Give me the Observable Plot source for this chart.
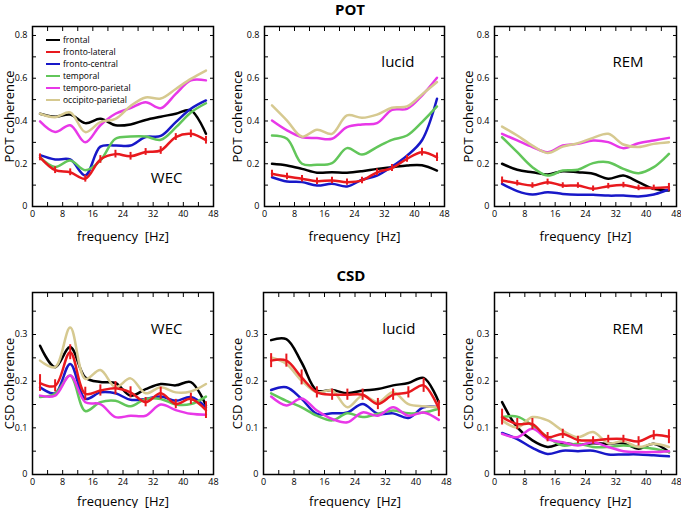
<!DOCTYPE html>
<html>
<head>
<meta charset="utf-8">
<script src="https://cdn.jsdelivr.net/npm/d3@7"></script>
<script src="https://cdn.jsdelivr.net/npm/@observablehq/plot@0.6"></script>
<style>
  html, body { margin: 0; padding: 0; background: #fff; }
  #wrap { position: relative; width: 681px; height: 508px; overflow: hidden; font-family: 'Open Sans', sans-serif; }
  #wrap svg { position: absolute; }
  #wrap [aria-label="x-axis label"] text, #wrap [aria-label="y-axis label"] text { font-size: 13px; }
  .title { position: absolute; font-weight: bold; font-size: 15px; transform: translateX(-50%); line-height: 1; }
  .legend { position: absolute; left: 46px; top: 34px; font-size: 8.5px; line-height: 12px; }
  .legend .row { display: flex; align-items: center; height: 12px; }
  .legend .sw { width: 14px; height: 2.5px; margin-right: 3px; }
</style>
</head>
<body>
<div id="wrap"></div>
<script>
// ---------- data ----------
const freq = [2, 6, 10, 14, 18, 22, 26, 30, 34, 38, 42, 46];
const series = ["frontal", "fronto-lateral", "fronto-central", "temporal", "temporo-parietal", "occipito-parietal"];
const colors = ["#000000", "#e8191e", "#1818c8", "#62c65a", "#e838e8", "#d6c990"];

const xTicks = [0, 4, 8, 12, 16, 20, 24, 28, 32, 36, 40, 44, 48];
const xTickLabels = [0, 8, 16, 24, 32, 40, 48];
const potTicks = [0, 0.1, 0.2, 0.3, 0.4, 0.5, 0.6, 0.7, 0.8];
const potTickLabels = [0, 0.2, 0.4, 0.6, 0.8];
const csdTicks = [0, 0.05, 0.1, 0.15, 0.2, 0.25, 0.3, 0.35];
const csdTickLabels = [0, 0.1, 0.2, 0.3];

// POT coherence, WEC
const potWecFrontal  = [0.434, 0.42, 0.43, 0.39, 0.41, 0.38, 0.384, 0.405, 0.42, 0.434, 0.45, 0.34];
const potWecLateral  = [0.23, 0.17, 0.16, 0.13, 0.22, 0.245, 0.235, 0.255, 0.262, 0.325, 0.34, 0.31];
const potWecCentral  = [0.24, 0.22, 0.22, 0.145, 0.28, 0.285, 0.285, 0.325, 0.33, 0.395, 0.457, 0.496];
const potWecTemporal = [0.23, 0.185, 0.215, 0.17, 0.215, 0.317, 0.327, 0.327, 0.312, 0.37, 0.44, 0.483];
const potWecTempPar  = [0.398, 0.348, 0.38, 0.30, 0.38, 0.434, 0.46, 0.488, 0.46, 0.527, 0.59, 0.59];
const potWecOccPar   = [0.434, 0.418, 0.44, 0.348, 0.395, 0.41, 0.47, 0.51, 0.505, 0.55, 0.597, 0.636];
const potWecErr      = [0.016, 0.016, 0.016, 0.016, 0.018, 0.018, 0.018, 0.016, 0.018, 0.016, 0.018, 0.018];

// POT coherence, lucid
const potLucidFrontal  = [0.2, 0.192, 0.176, 0.158, 0.16, 0.158, 0.165, 0.176, 0.184, 0.192, 0.193, 0.168];
const potLucidLateral  = [0.153, 0.14, 0.13, 0.118, 0.122, 0.114, 0.122, 0.16, 0.18, 0.223, 0.254, 0.23];
const potLucidCentral  = [0.137, 0.117, 0.114, 0.098, 0.106, 0.094, 0.125, 0.145, 0.187, 0.238, 0.31, 0.504];
const potLucidTemporal = [0.332, 0.317, 0.2, 0.195, 0.203, 0.273, 0.243, 0.278, 0.312, 0.332, 0.395, 0.468];
const potLucidTempPar  = [0.402, 0.356, 0.324, 0.32, 0.317, 0.371, 0.384, 0.39, 0.452, 0.457, 0.519, 0.602];
const potLucidOccPar   = [0.473, 0.402, 0.327, 0.359, 0.34, 0.426, 0.415, 0.43, 0.462, 0.468, 0.524, 0.582];
const potLucidErr      = [0.016, 0.015, 0.015, 0.015, 0.015, 0.015, 0.015, 0.016, 0.016, 0.016, 0.018, 0.02];

// POT coherence, REM
const potRemFrontal  = [0.2, 0.172, 0.16, 0.15, 0.165, 0.16, 0.153, 0.13, 0.145, 0.114, 0.083, 0.075];
const potRemLateral  = [0.122, 0.109, 0.098, 0.114, 0.098, 0.098, 0.083, 0.095, 0.1, 0.087, 0.087, 0.09];
const potRemCentral  = [0.106, 0.072, 0.056, 0.067, 0.059, 0.055, 0.055, 0.051, 0.051, 0.047, 0.056, 0.08];
const potRemTemporal = [0.324, 0.254, 0.184, 0.145, 0.168, 0.172, 0.203, 0.207, 0.176, 0.156, 0.184, 0.246];
const potRemTempPar  = [0.34, 0.309, 0.278, 0.254, 0.285, 0.293, 0.309, 0.301, 0.273, 0.296, 0.309, 0.321];
const potRemOccPar   = [0.374, 0.332, 0.285, 0.25, 0.28, 0.296, 0.321, 0.34, 0.29, 0.278, 0.293, 0.301];
const potRemErr      = [0.016, 0.013, 0.013, 0.014, 0.013, 0.013, 0.013, 0.013, 0.013, 0.013, 0.013, 0.018];

// CSD coherence, WEC
const csdWecFrontal  = [0.276, 0.23, 0.273, 0.208, 0.198, 0.196, 0.169, 0.183, 0.194, 0.191, 0.198, 0.148];
const csdWecLateral  = [0.196, 0.19, 0.262, 0.173, 0.18, 0.185, 0.176, 0.155, 0.174, 0.151, 0.162, 0.138];
const csdWecCentral  = [0.187, 0.174, 0.237, 0.162, 0.176, 0.174, 0.16, 0.162, 0.167, 0.158, 0.166, 0.144];
const csdWecTemporal = [0.166, 0.173, 0.212, 0.136, 0.155, 0.158, 0.146, 0.162, 0.162, 0.15, 0.151, 0.167];
const csdWecTempPar  = [0.169, 0.169, 0.212, 0.155, 0.151, 0.123, 0.126, 0.126, 0.15, 0.138, 0.13, 0.128];
const csdWecOccPar   = [0.244, 0.23, 0.315, 0.205, 0.224, 0.187, 0.206, 0.174, 0.187, 0.176, 0.178, 0.194];
const csdWecErr      = [0.018, 0.013, 0.016, 0.014, 0.012, 0.014, 0.012, 0.01, 0.013, 0.01, 0.012, 0.018];

// CSD coherence, lucid
const csdLucidFrontal  = [0.288, 0.29, 0.24, 0.18, 0.181, 0.174, 0.18, 0.183, 0.191, 0.196, 0.207, 0.155];
const csdLucidLateral  = [0.244, 0.244, 0.208, 0.176, 0.171, 0.171, 0.171, 0.151, 0.171, 0.176, 0.191, 0.141];
const csdLucidCentral  = [0.181, 0.187, 0.162, 0.13, 0.131, 0.133, 0.151, 0.13, 0.131, 0.121, 0.144, 0.144];
const csdLucidTemporal = [0.174, 0.158, 0.144, 0.126, 0.116, 0.131, 0.123, 0.13, 0.137, 0.131, 0.133, 0.141];
const csdLucidTempPar  = [0.167, 0.148, 0.163, 0.137, 0.119, 0.112, 0.133, 0.126, 0.144, 0.126, 0.133, 0.117];
const csdLucidOccPar   = [0.251, 0.237, 0.201, 0.176, 0.18, 0.144, 0.169, 0.155, 0.176, 0.151, 0.146, 0.144];
const csdLucidErr      = [0.015, 0.014, 0.016, 0.012, 0.012, 0.012, 0.012, 0.012, 0.012, 0.012, 0.015, 0.017];

// CSD coherence, REM
const csdRemFrontal  = [0.155, 0.101, 0.073, 0.059, 0.067, 0.064, 0.067, 0.066, 0.067, 0.055, 0.066, 0.048];
const csdRemLateral  = [0.123, 0.108, 0.108, 0.08, 0.087, 0.074, 0.073, 0.076, 0.076, 0.071, 0.084, 0.081];
const csdRemCentral  = [0.089, 0.076, 0.057, 0.044, 0.051, 0.05, 0.051, 0.043, 0.043, 0.043, 0.041, 0.039];
const csdRemTemporal = [0.123, 0.124, 0.105, 0.08, 0.062, 0.066, 0.059, 0.059, 0.062, 0.059, 0.055, 0.048];
const csdRemTempPar  = [0.087, 0.08, 0.098, 0.076, 0.069, 0.062, 0.069, 0.059, 0.05, 0.048, 0.048, 0.05];
const csdRemOccPar   = [0.116, 0.101, 0.123, 0.116, 0.094, 0.08, 0.091, 0.067, 0.071, 0.059, 0.066, 0.059];
const csdRemErr      = [0.017, 0.012, 0.012, 0.01, 0.01, 0.008, 0.008, 0.008, 0.008, 0.01, 0.01, 0.015];

// ---------- layout ----------
const panels = [
  {name: "WEC", ylabel: "POT coherence", values: [potWecFrontal, potWecLateral, potWecCentral, potWecTemporal, potWecTempPar, potWecOccPar], err: potWecErr,
   ticks: potTicks, tickLabels: potTickLabels, yMax: 0.842, left: 0, top: 0, w: 227, h: 250, ml: 32, mr: 14, mt: 26, mb: 44, dx: -31, dy: 146, xlo: 34, ylo: 28},
  {name: "lucid", ylabel: "POT coherence", values: [potLucidFrontal, potLucidLateral, potLucidCentral, potLucidTemporal, potLucidTempPar, potLucidOccPar], err: potLucidErr,
   ticks: potTicks, tickLabels: potTickLabels, yMax: 0.842, left: 227, top: 0, w: 227, h: 250, ml: 37, mr: 10, mt: 26, mb: 44, dx: -30, dy: 30, xlo: 34, ylo: 32},
  {name: "REM", ylabel: "POT coherence", values: [potRemFrontal, potRemLateral, potRemCentral, potRemTemporal, potRemTempPar, potRemOccPar], err: potRemErr,
   ticks: potTicks, tickLabels: potTickLabels, yMax: 0.842, left: 454, top: 0, w: 227, h: 250, ml: 40, mr: 5, mt: 26, mb: 44, dx: -33, dy: 30, xlo: 34, ylo: 31},
  {name: "WEC", ylabel: "CSD coherence", values: [csdWecFrontal, csdWecLateral, csdWecCentral, csdWecTemporal, csdWecTempPar, csdWecOccPar], err: csdWecErr,
   ticks: csdTicks, tickLabels: csdTickLabels, yMax: 0.39, left: 0, top: 250, w: 227, h: 258, ml: 32, mr: 14, mt: 42, mb: 34, dx: -31, dy: 31, xlo: 31, ylo: 28},
  {name: "lucid", ylabel: "CSD coherence", values: [csdLucidFrontal, csdLucidLateral, csdLucidCentral, csdLucidTemporal, csdLucidTempPar, csdLucidOccPar], err: csdLucidErr,
   ticks: csdTicks, tickLabels: csdTickLabels, yMax: 0.39, left: 227, top: 250, w: 227, h: 258, ml: 36, mr: 8, mt: 42, mb: 34, dx: -31, dy: 31, xlo: 31, ylo: 31},
  {name: "REM", ylabel: "CSD coherence", values: [csdRemFrontal, csdRemLateral, csdRemCentral, csdRemTemporal, csdRemTempPar, csdRemOccPar], err: csdRemErr,
   ticks: csdTicks, tickLabels: csdTickLabels, yMax: 0.39, left: 454, top: 250, w: 227, h: 258, ml: 40, mr: 5, mt: 42, mb: 34, dx: -33, dy: 31, xlo: 31, ylo: 31}
];

const wrap = document.getElementById("wrap");

function makePanel(p) {
  const rows = [];
  p.values.forEach((vals, si) => {
    if (si === 1) return;
    vals.forEach((v, i) => rows.push({f: freq[i], v, s: series[si]}));
  });
  const red = p.values[1].map((v, i) => ({f: freq[i], v, e: p.err[i]}));
  const yFmt = d => d === 0 ? "0" : (p.tickLabels.some(t => Math.abs(t - d) < 1e-9) ? d.toFixed(1) : "");
  const xFmt = d => xTickLabels.includes(d) ? String(d) : "";
  const plot = Plot.plot({
    width: p.w, height: p.h,
    marginLeft: p.ml, marginRight: p.mr, marginTop: p.mt, marginBottom: p.mb,
    x: {domain: [0, 48]},
    y: {domain: [0, p.yMax]},
    color: {domain: series, range: colors},
    style: {fontFamily: "'Open Sans', sans-serif", fontSize: "9px", background: "transparent", overflow: "visible"},
    marks: [
      Plot.line(rows, {x: "f", y: "v", z: "s", stroke: "s", curve: "catmull-rom", strokeWidth: 2.5}),
      Plot.line(red, {x: "f", y: "v", stroke: colors[1], curve: "catmull-rom", strokeWidth: 2.5}),
      Plot.ruleX(red, {x: "f", y1: d => d.v - d.e, y2: d => d.v + d.e, stroke: colors[1], strokeWidth: 2}),
      Plot.frame({stroke: "black", strokeWidth: 1.5}),
      Plot.axisX({anchor: "bottom", ticks: xTicks, tickSize: -4, tickPadding: 8, tickFormat: xFmt,
                  label: "frequency\u00a0\u00a0[Hz]", labelAnchor: "center", labelOffset: p.xlo, labelArrow: "none"}),
      Plot.axisX({anchor: "top", ticks: xTicks, tickSize: -4, tickFormat: () => "", label: null}),
      Plot.axisY({anchor: "left", ticks: p.ticks, tickSize: -4, tickPadding: 9, tickFormat: yFmt,
                  label: p.ylabel, labelAnchor: "center", labelOffset: p.ylo, labelArrow: "none"}),
      Plot.axisY({anchor: "right", ticks: p.ticks, tickSize: -4, tickFormat: () => "", label: null}),
      Plot.text([p.name], {text: d => d, frameAnchor: "top-right", textAnchor: "end", lineAnchor: "top", dx: p.dx, dy: p.dy, fontSize: 15})
    ]
  });
  plot.style.left = p.left + "px";
  plot.style.top = p.top + "px";
  wrap.appendChild(plot);
}
panels.forEach(makePanel);

// titles
const t1 = document.createElement("div");
t1.className = "title"; t1.textContent = "POT";
t1.style.left = "350px"; t1.style.top = "2px";
wrap.appendChild(t1);
const t2 = document.createElement("div");
t2.className = "title"; t2.textContent = "CSD";
t2.style.left = "351px"; t2.style.top = "268px";
wrap.appendChild(t2);

// legend
const leg = document.createElement("div");
leg.className = "legend";
series.forEach((s, i) => {
  const row = document.createElement("div");
  row.className = "row";
  const sw = document.createElement("div");
  sw.className = "sw"; sw.style.background = colors[i];
  const tx = document.createElement("span");
  tx.textContent = s;
  row.appendChild(sw); row.appendChild(tx);
  leg.appendChild(row);
});
wrap.appendChild(leg);
</script>
</body>
</html>
